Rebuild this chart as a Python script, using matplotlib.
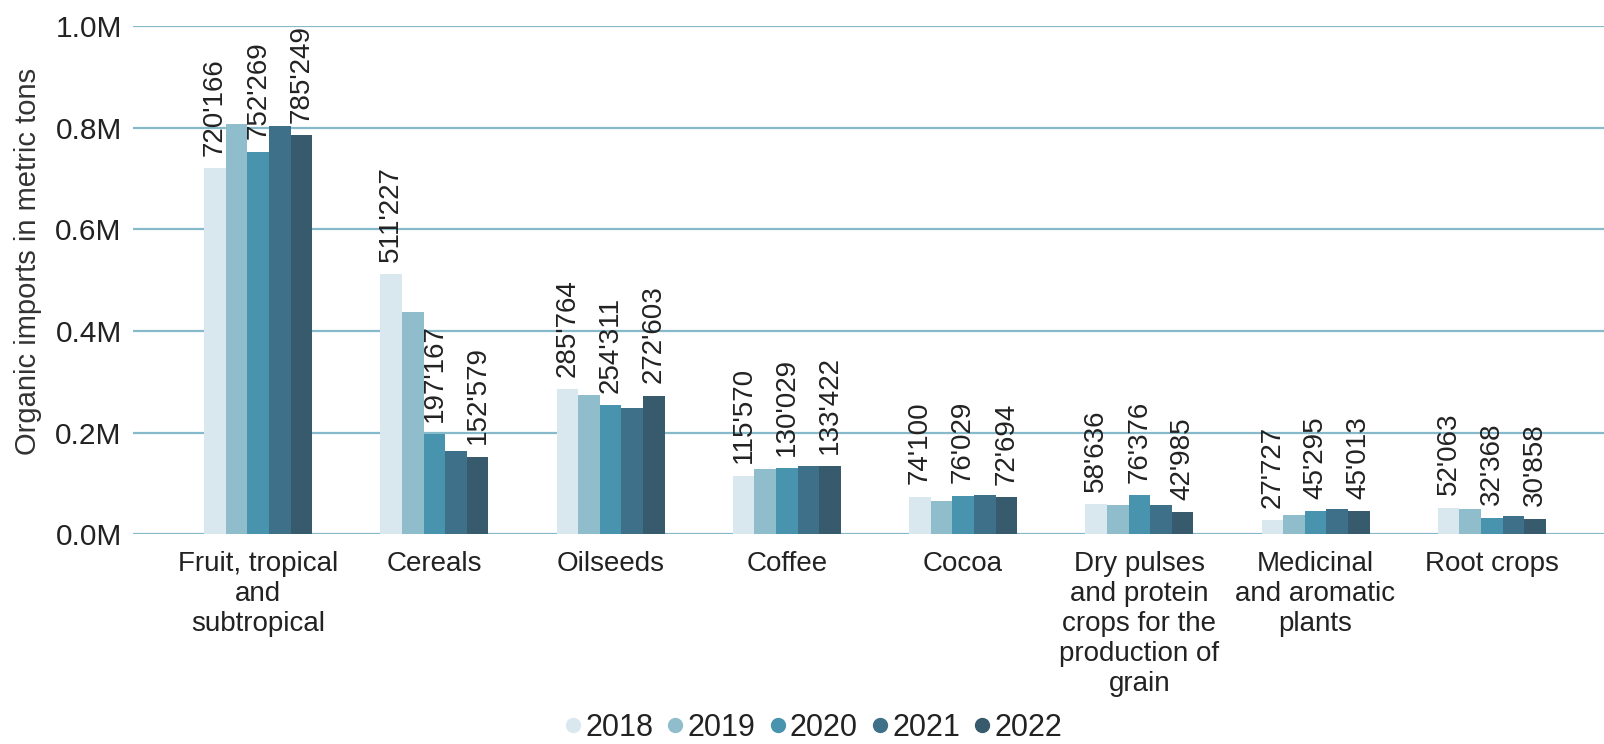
import numpy as np
from matplotlib import pyplot as plt

plt.rcParams['font.family'] = ['Liberation Sans', 'DejaVu Sans']

# данные
categories = [
    'Fruit, tropical\nand\nsubtropical',
    'Cereals',
    'Oilseeds',
    'Coffee',
    'Cocoa',
    'Dry pulses\nand protein\ncrops for the\nproduction of\ngrain',
    'Medicinal\nand aromatic\nplants',
    'Root crops',
]
years = ['2018', '2019', '2020', '2021', '2022']

v2018 = [720166, 511227, 285764, 115570, 74100, 58636, 27727, 52063]
v2019 = [808000, 437000, 275000, 129000, 65000, 58000, 37000, 49500]
v2020 = [752269, 197167, 254311, 130029, 76029, 76376, 45295, 32368]
v2021 = [803000, 164000, 249000, 135000, 77000, 58000, 50000, 36000]
v2022 = [785249, 152579, 272603, 133422, 72694, 42985, 45013, 30858]

colors = ['#d9e8ef', '#90bdcc', '#4893ad', '#3e7189', '#375a6d']
labelled = [True, False, True, False, True]

series = [v2018, v2019, v2020, v2021, v2022]

fig = plt.figure(figsize=(16.04, 7.44), dpi=100)
ax = fig.add_axes([0.0829, 0.2819, 0.9171, 0.6831])

x = np.arange(len(categories))
bw = 0.1226

for j, (vals, col) in enumerate(zip(series, colors)):
    pos = x + (j - 2) * bw
    ax.bar(pos, vals, width=bw, color=col, label=years[j], zorder=3)
    if labelled[j]:
        for xp, v in zip(pos, vals):
            ax.annotate(f"{v:,}".replace(',', "'"), (xp, v),
                        xytext=(0, 9), textcoords='offset points',
                        rotation=90, ha='center', va='bottom',
                        fontsize=20, color='#222222', zorder=4)

ax.set_xlim(-0.711, 7.637)
ax.set_ylim(0, 1.0e6)
ax.set_yticks([0, 0.2e6, 0.4e6, 0.6e6, 0.8e6, 1.0e6])
ax.set_yticklabels([f"{t/1e6:.1f}M" for t in ax.get_yticks()], fontsize=21.5)
ax.set_xticks(x)
ax.set_xticklabels(categories, linespacing=1.2, fontsize=20)
ax.tick_params(axis='both', length=0, colors='#222222')
ax.tick_params(axis='y', pad=8)
ax.tick_params(axis='x', pad=12)

ax.yaxis.grid(True, color='#86b9ca', linewidth=1.6, zorder=0)
ax.set_axisbelow(True)
for s in ax.spines.values():
    s.set_visible(False)

ax.set_ylabel('Organic imports in metric tons', fontsize=21, color='#333333')
ax.yaxis.set_label_coords(-0.062, 0.537)

fig.legend(loc='center', bbox_to_anchor=(0.5076, 0.022), ncol=5,
           frameon=False, fontsize=22, handlelength=0.45, handletextpad=0.18,
           columnspacing=0.5, borderpad=0,
           handles=[plt.Line2D([], [], marker='o', linestyle='', markersize=10,
                               color=c) for c in colors],
           labels=years, labelcolor='#222222')

plt.savefig('out.png', dpi=100)
